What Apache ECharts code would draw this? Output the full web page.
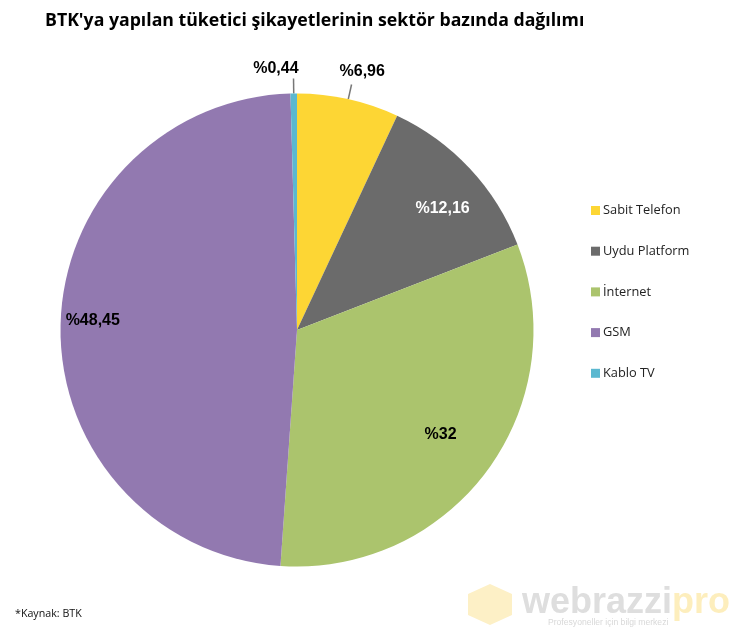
<!DOCTYPE html>
<html>
<head>
    <meta charset="utf-8">
    <title>BTK</title>
    <script src="https://cdn.jsdelivr.net/npm/echarts@6/dist/echarts.min.js"></script>
    <style>html,body{margin:0;background:#fff}</style>
</head>
<body>
    <div id="main" style="width:734px;height:630px;"></div>
    <script type="text/javascript">
        var categories = ['Sabit Telefon', 'Uydu Platform', 'İnternet', 'GSM', 'Kablo TV'];
        var values = [6.96, 12.16, 32, 48.45, 0.44];
        var valueLabels = ['%6,96', '%12,16', '%32', '%48,45', '%0,44'];
        var colors = ['#fdd634', '#6b6b6b', '#abc46d', '#9279b0', '#5bb8d0'];
        var labelColors = ['#000', '#fff', '#000', '#000', '#000'];
        var labelPositions = ['outside', 'inner', 'inner', 'inner', 'outside'];
        // label nudges from the default pie placement
        var labelOffsets = [[-17, -13], [57, -39], [46, 33], [-83, -7], [10, -10]];

        var myChart = echarts.init(document.getElementById('main'));

        var option = {
            animation: false,
            backgroundColor: '#fff',
            title: [{
                text: "BTK'ya yapılan tüketici şikayetlerinin sektör bazında dağılımı",
                left: 40, top: 7,
                textStyle: {fontFamily: 'Open Sans', fontSize: 17.7, fontWeight: 'bold', color: '#000'}
            }, {
                text: '*Kaynak: BTK',
                left: 10, top: 603,
                textStyle: {fontFamily: 'Open Sans', fontSize: 10.7, fontWeight: 'normal', color: '#111'}
            }],
            legend: {
                orient: 'vertical',
                left: 586, top: 199,
                itemWidth: 9, itemHeight: 9, itemGap: 27.7,
                icon: 'rect',
                textStyle: {fontFamily: 'Open Sans', fontSize: 12.8, color: '#222', padding: [0, 0, 0, -2]},
                data: categories
            },
            graphic: [
                {type: 'polygon', silent: true, shape: {points: [[490, 584], [512, 594], [512, 615], [490, 625], [468, 615], [468, 594]]}, style: {fill: '#fdf0c6'}},
                {type: 'text', silent: true, left: 522, top: 585, style: {text: 'webrazzi', font: 'bold 36px "Liberation Sans"', fill: '#dedede'}},
                {type: 'text', silent: true, left: 672, top: 585, style: {text: 'pro', font: 'bold 36px "Liberation Sans"', fill: '#fdeebd'}},
                {type: 'text', silent: true, left: 548, top: 618, style: {text: 'Profesyoneller için bilgi merkezi', font: '8.6px "Liberation Sans"', fill: '#d8d8d8'}}
            ],
            series: [{
                type: 'pie',
                center: [297, 330],
                radius: [0, 236.5],
                startAngle: 90,
                clockwise: true,
                avoidLabelOverlap: false,
                data: categories.map(function (name, i) {
                    return {
                        name: name,
                        value: values[i],
                        itemStyle: {color: colors[i]},
                        label: {color: labelColors[i], position: labelPositions[i]}
                    };
                }),
                label: {
                    fontFamily: 'Liberation Sans',
                    fontSize: 16,
                    fontWeight: 'bold',
                    formatter: function (p) { return valueLabels[p.dataIndex]; }
                },
                labelLine: {show: true, length: 15, length2: 0, lineStyle: {color: '#777', width: 1.5}},
                labelLayout: function (p) {
                    return {dx: labelOffsets[p.dataIndex][0], dy: labelOffsets[p.dataIndex][1]};
                }
            }]
        };

        myChart.setOption(option);
    </script>
</body>
</html>
